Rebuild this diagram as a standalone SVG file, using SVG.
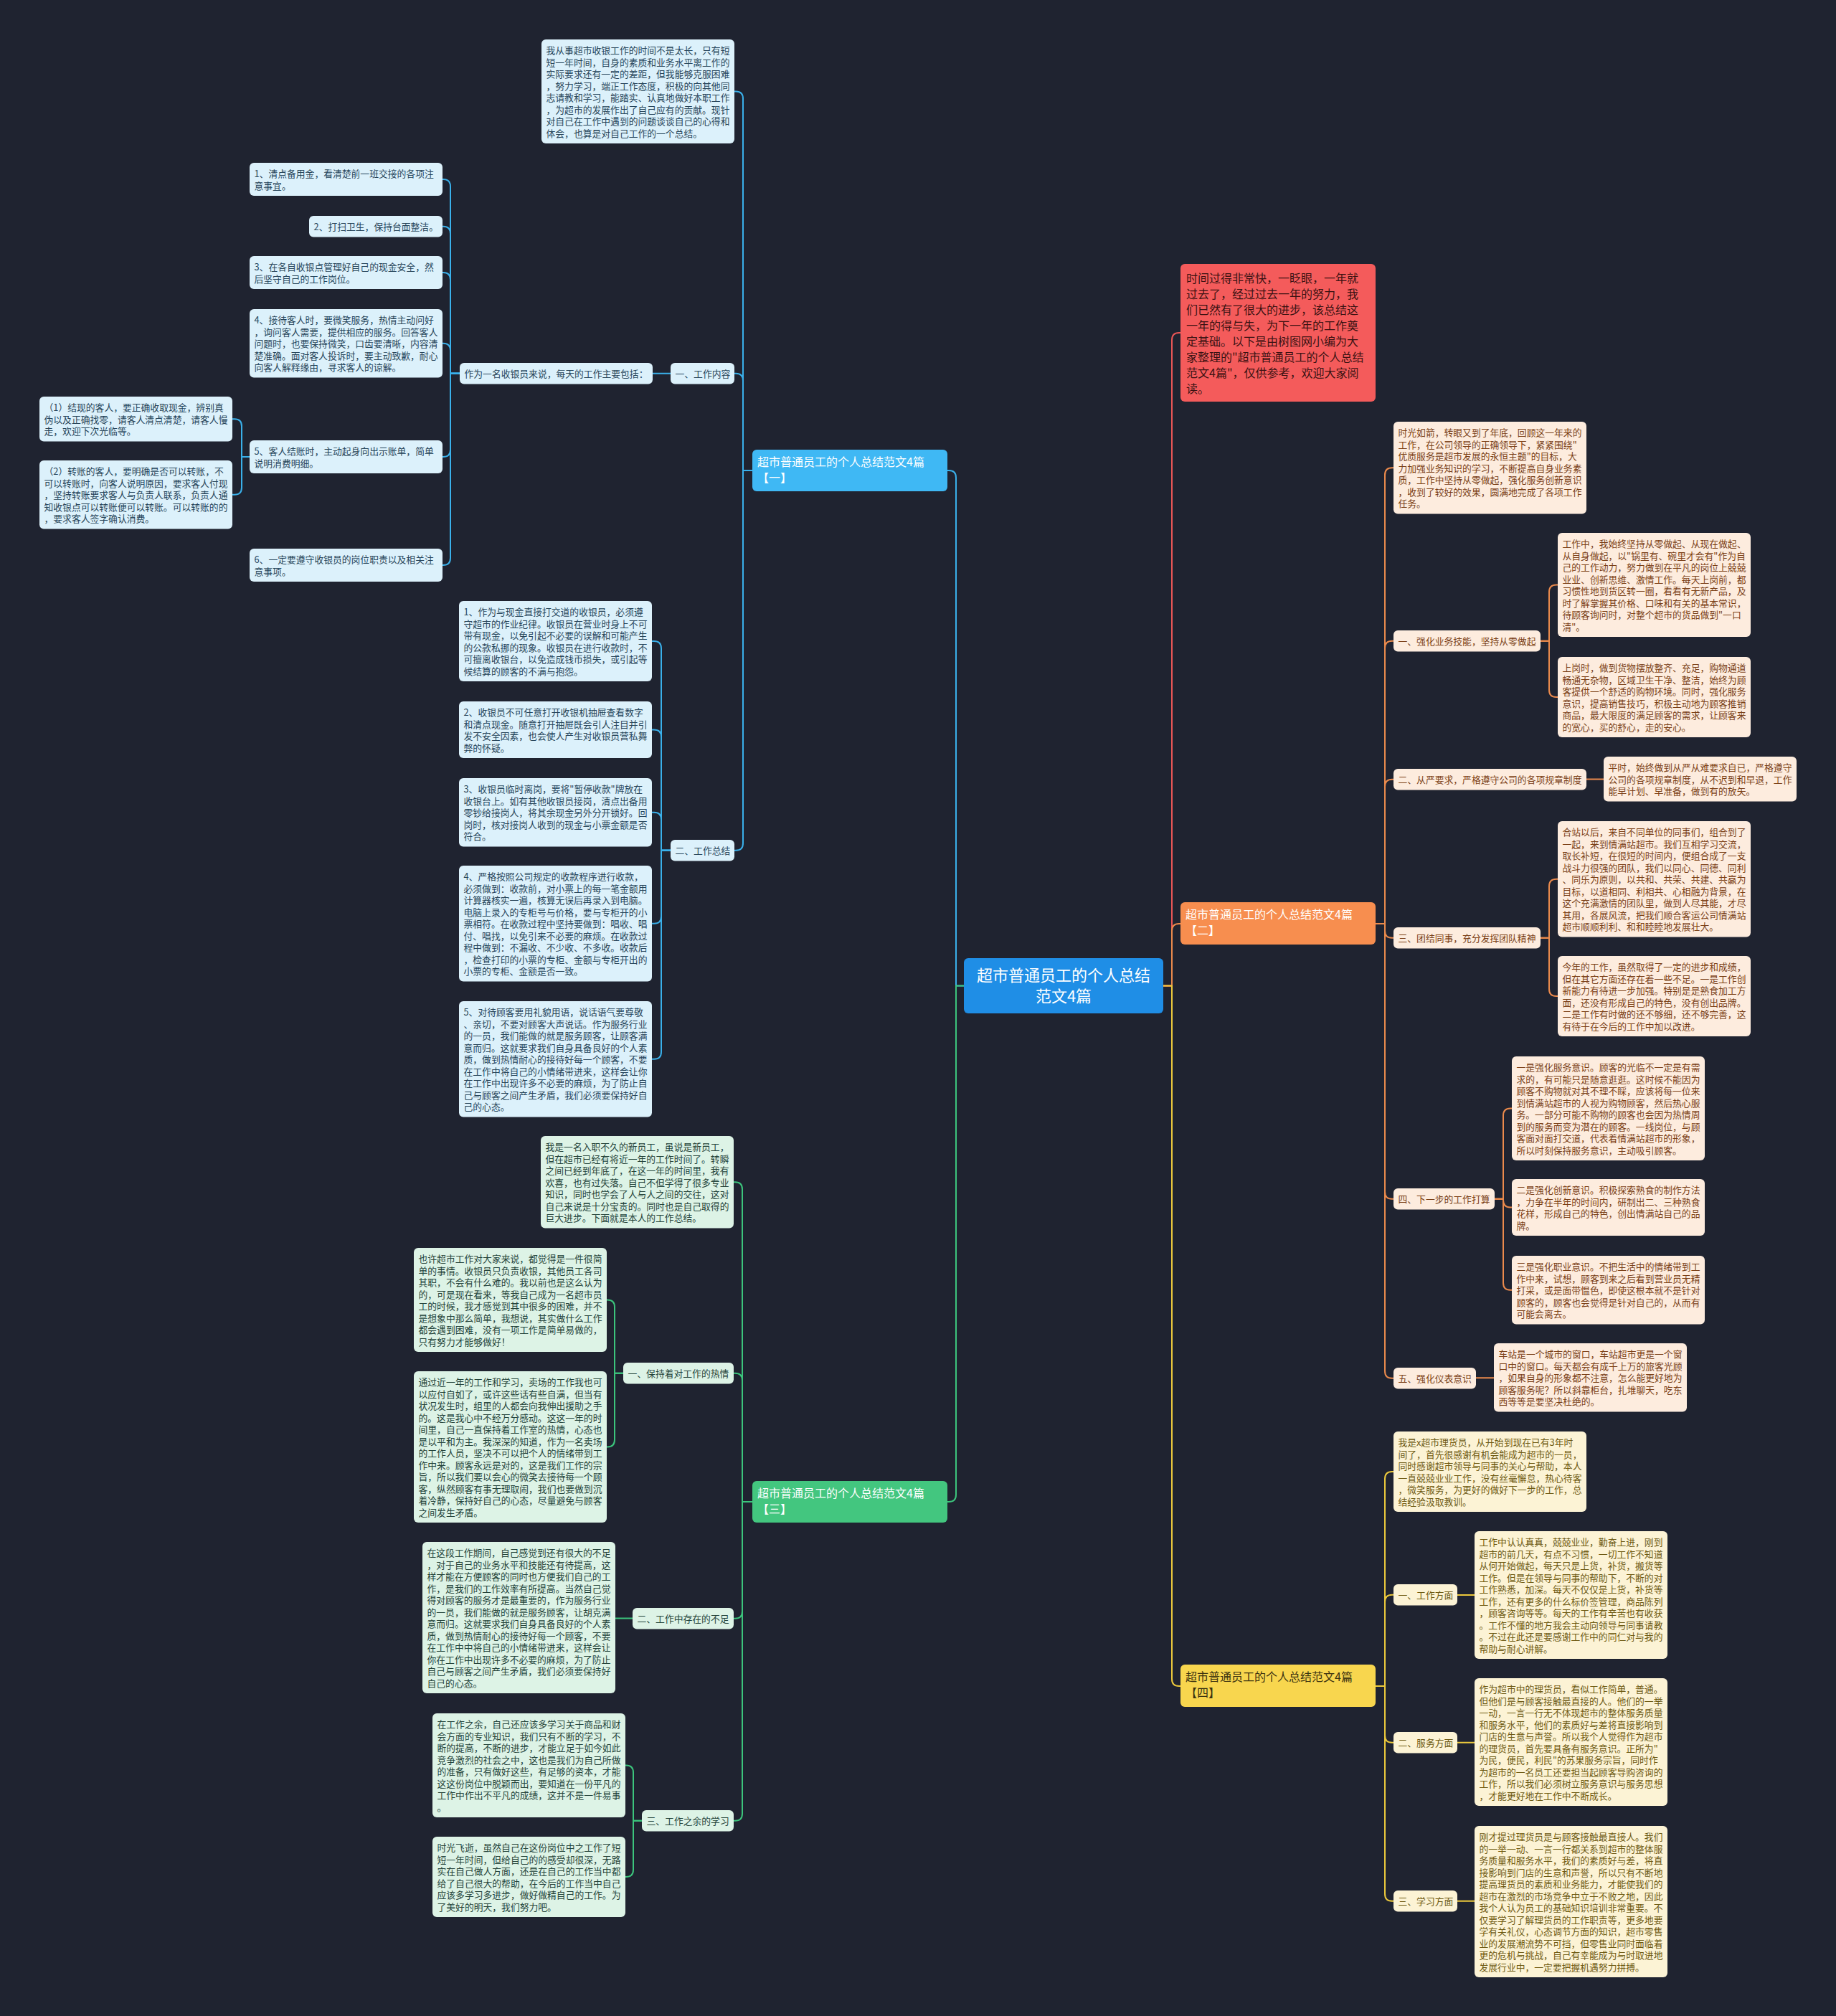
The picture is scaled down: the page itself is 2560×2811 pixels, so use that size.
<svg xmlns="http://www.w3.org/2000/svg" width="2560" height="2811" viewBox="0 0 2560 2811">
<style>
text{font-family:"Noto Sans CJK SC","Noto Sans",sans-serif;}
.t{font-size:12.8px}
.lb rect{fill:#dcf1fb} .lb text{fill:#27455a}
.lg rect{fill:#ddf3e6} .lg text{fill:#24433a}
.lo rect{fill:#fdecde} .lo text{fill:#7a3f16}
.ly rect{fill:#fcf3d5} .ly text{fill:#6e5a12}
.c path{fill:none;stroke-width:2}
.cb path{stroke:#3ab0ea} .cg path{stroke:#3cc47c} .co path{stroke:#eb8a4c} .cy path{stroke:#ecc93c} .cr path{stroke:#ea5656}
.sec text{font-size:16px}
</style>
<rect width="2560" height="2811" fill="#1f2330"/>

<g id="connectors" class="c">
 <g class="cb">
  <path d="M1344 1374.5H1333V666Q1333 656 1323 656H1321"/>
  <path d="M1049 656H1036V137.5Q1036 127.5 1026 127.5H1024"/>
  <path d="M1049 656H1036V530.75Q1036 520.75 1026 520.75H1024"/>
  <path d="M1049 656H1036V1175.75Q1036 1185.75 1026 1185.75H1024"/>
  <path d="M935 520.75H910"/>
  <path d="M641 520.75H628V260Q628 250 618 250H617"/>
  <path d="M641 520.75H628V325.75Q628 315.75 618 315.75H617"/>
  <path d="M641 520.75H628V390Q628 380 618 380H617"/>
  <path d="M641 520.75H628V488.75Q628 478.75 618 478.75H617"/>
  <path d="M641 520.75H628V627Q628 637 618 637H617"/>
  <path d="M641 520.75H628V778Q628 788 618 788H617"/>
  <path d="M348 637H337V594.25Q337 584.25 327 584.25H324"/>
  <path d="M348 637H337V679.75Q337 689.75 327 689.75H324"/>
  <path d="M935 1185.75H922V904Q922 894 912 894H909"/>
  <path d="M935 1185.75H922V1027.5Q922 1017.5 912 1017.5H909"/>
  <path d="M935 1185.75H922V1142.75Q922 1132.75 912 1132.75H909"/>
  <path d="M935 1185.75H922V1277.75Q922 1287.75 912 1287.75H909"/>
  <path d="M935 1185.75H922V1466.75Q922 1476.75 912 1476.75H909"/>
 </g>
 <g class="cg">
  <path d="M1344 1374.5H1333V2084Q1333 2094 1323 2094H1321"/>
  <path d="M1049 2094H1035V1658.25Q1035 1648.25 1025 1648.25H1023"/>
  <path d="M1049 2094H1035V1924.75Q1035 1914.75 1025 1914.75H1023"/>
  <path d="M1049 2094H1035V2246.75Q1035 2256.75 1025 2256.75H1023"/>
  <path d="M1049 2094H1035V2528.75Q1035 2538.75 1025 2538.75H1023"/>
  <path d="M869 1914.75H857V1822.5Q857 1812.5 847 1812.5H846"/>
  <path d="M869 1914.75H857V2007.5Q857 2017.5 847 2017.5H846"/>
  <path d="M882 2256.5H858"/>
  <path d="M895 2538.75H883V2471.5Q883 2461.5 873 2461.5H872"/>
  <path d="M895 2538.75H883V2607Q883 2617 873 2617H872"/>
 </g>
 <g class="cr">
  <path d="M1622 1374.5H1634V474Q1634 464 1644 464H1646"/>
 </g>
 <g class="co">
  <path d="M1622 1374.5H1634V1298Q1634 1288 1644 1288H1646"/>
  <path d="M1918 1288H1931V662.25Q1931 652.25 1941 652.25H1943"/>
  <path d="M1918 1288H1931V903.75Q1931 893.75 1941 893.75H1943"/>
  <path d="M1918 1288H1931V1096.75Q1931 1086.75 1941 1086.75H1943"/>
  <path d="M1918 1288H1931V1297.75Q1931 1307.75 1941 1307.75H1943"/>
  <path d="M1918 1288H1931V1661.75Q1931 1671.75 1941 1671.75H1943"/>
  <path d="M1918 1288H1931V1911.75Q1931 1921.75 1941 1921.75H1943"/>
  <path d="M2148 893.75H2160V825.5Q2160 815.5 2170 815.5H2172"/>
  <path d="M2148 893.75H2160V962Q2160 972 2170 972H2172"/>
  <path d="M2212 1086.5H2236"/>
  <path d="M2148 1307.75H2160V1235.75Q2160 1225.75 2170 1225.75H2172"/>
  <path d="M2148 1307.75H2160V1379Q2160 1389 2170 1389H2172"/>
  <path d="M2084 1671.75H2096V1555.5Q2096 1545.5 2106 1545.5H2108"/>
  <path d="M2084 1671.75H2096V1673.5Q2096 1683.5 2106 1683.5H2108"/>
  <path d="M2084 1671.75H2096V1788.75Q2096 1798.75 2106 1798.75H2108"/>
  <path d="M2058 1921.25H2083"/>
 </g>
 <g class="cy">
  <path d="M1622 1374.5H1634V2341Q1634 2351 1644 2351H1646"/>
  <path d="M1918 2351H1931V2062Q1931 2052 1941 2052H1943"/>
  <path d="M1918 2351H1931V2233.75Q1931 2223.75 1941 2223.75H1943"/>
  <path d="M1918 2351H1931V2419.75Q1931 2429.75 1941 2429.75H1943"/>
  <path d="M1918 2351H1931V2640.75Q1931 2650.75 1941 2650.75H1943"/>
  <path d="M2032 2224H2056"/>
  <path d="M2032 2429.75H2056"/>
  <path d="M2032 2650.75H2056"/>
 </g>
</g>

<g id="root">
 <rect x="1344" y="1336" width="278" height="77" rx="6" fill="#1f8ee6"/>
 <text x="1483" y="1368" font-size="22" fill="#ffffff" text-anchor="middle"><tspan x="1483">超市普通员工的个人总结</tspan><tspan x="1483" dy="29">范文4篇</tspan></text>
</g>

<g id="intro" >
 <rect x="1646" y="368" width="272" height="192" rx="6" fill="#f45b5b"/>
 <text x="1654" y="394" font-size="16" fill="#3a1212"><tspan x="1654">时间过得非常快，一眨眼，一年就</tspan><tspan x="1654" dy="22">过去了，经过过去一年的努力，我</tspan><tspan x="1654" dy="22">们已然有了很大的进步，该总结这</tspan><tspan x="1654" dy="22">一年的得与失，为下一年的工作奠</tspan><tspan x="1654" dy="22">定基础。以下是由树图网小编为大</tspan><tspan x="1654" dy="22">家整理的"超市普通员工的个人总结</tspan><tspan x="1654" dy="22">范文4篇"，仅供参考，欢迎大家阅</tspan><tspan x="1654" dy="22">读。</tspan></text>
</g>

<g id="sec1" class="sec">
 <rect x="1049" y="627" width="272" height="58" rx="6" fill="#3fb8f4"/>
 <text x="1056" y="650" fill="#ffffff"><tspan x="1056">超市普通员工的个人总结范文4篇</tspan><tspan x="1056" dy="22">【一】</tspan></text>
</g>
<g id="sec2" class="sec">
 <rect x="1646" y="1258" width="272" height="59" rx="6" fill="#f78e4f"/>
 <text x="1653" y="1281" fill="#ffffff"><tspan x="1653">超市普通员工的个人总结范文4篇</tspan><tspan x="1653" dy="22">【二】</tspan></text>
</g>
<g id="sec3" class="sec">
 <rect x="1049" y="2065" width="272" height="58" rx="6" fill="#43c67f"/>
 <text x="1056" y="2088" fill="#ffffff"><tspan x="1056">超市普通员工的个人总结范文4篇</tspan><tspan x="1056" dy="22">【三】</tspan></text>
</g>
<g id="sec4" class="sec">
 <rect x="1646" y="2321" width="272" height="59" rx="6" fill="#f8d64e"/>
 <text x="1653" y="2344" fill="#3b3210"><tspan x="1653">超市普通员工的个人总结范文4篇</tspan><tspan x="1653" dy="22">【四】</tspan></text>
</g>

<!-- Section 1 -->
<g id="s1-intro" class="lb t">
 <rect x="755" y="55" width="269" height="145" rx="6"/>
 <text x="761.5" y="75"><tspan x="761.5">我从事超市收银工作的时间不是太长，只有短</tspan><tspan x="761.5" dy="16.5">短一年时间，自身的素质和业务水平离工作的</tspan><tspan x="761.5" dy="16.5">实际要求还有一定的差距，但我能够克服困难</tspan><tspan x="761.5" dy="16.5">，努力学习，端正工作态度，积极的向其他同</tspan><tspan x="761.5" dy="16.5">志请教和学习，能踏实、认真地做好本职工作</tspan><tspan x="761.5" dy="16.5">，为超市的发展作出了自己应有的贡献。现针</tspan><tspan x="761.5" dy="16.5">对自己在工作中遇到的问题谈谈自己的心得和</tspan><tspan x="761.5" dy="16.5">体会，也算是对自己工作的一个总结。</tspan></text>
</g>
<g id="s1-a" class="lb t">
 <rect x="935" y="506" width="89" height="29.5" rx="6"/>
 <text x="941.5" y="526">一、工作内容</text>
</g>
<g id="s1-a0" class="lb t">
 <rect x="641" y="506" width="269" height="29.5" rx="6"/>
 <text x="647.5" y="526">作为一名收银员来说，每天的工作主要包括：</text>
</g>
<g id="s1-a1" class="lb t">
 <rect x="348" y="227" width="269" height="46" rx="6"/>
 <text x="354.5" y="247"><tspan x="354.5">1、清点备用金，看清楚前一班交接的各项注</tspan><tspan x="354.5" dy="16.5">意事宜。</tspan></text>
</g>
<g id="s1-a2" class="lb t">
 <rect x="431" y="301" width="186" height="29.5" rx="6"/>
 <text x="437.5" y="321">2、打扫卫生，保持台面整洁。</text>
</g>
<g id="s1-a3" class="lb t">
 <rect x="348" y="357" width="269" height="46" rx="6"/>
 <text x="354.5" y="377"><tspan x="354.5">3、在各自收银点管理好自己的现金安全，然</tspan><tspan x="354.5" dy="16.5">后坚守自己的工作岗位。</tspan></text>
</g>
<g id="s1-a4" class="lb t">
 <rect x="348" y="431" width="269" height="95.5" rx="6"/>
 <text x="354.5" y="451"><tspan x="354.5">4、接待客人时，要微笑服务，热情主动问好</tspan><tspan x="354.5" dy="16.5">，询问客人需要，提供相应的服务。回答客人</tspan><tspan x="354.5" dy="16.5">问题时，也要保持微笑，口齿要清晰，内容清</tspan><tspan x="354.5" dy="16.5">楚准确。面对客人投诉时，要主动致歉，耐心</tspan><tspan x="354.5" dy="16.5">向客人解释缘由，寻求客人的谅解。</tspan></text>
</g>
<g id="s1-a5" class="lb t">
 <rect x="348" y="614" width="269" height="46" rx="6"/>
 <text x="354.5" y="634"><tspan x="354.5">5、客人结账时，主动起身向出示账单，简单</tspan><tspan x="354.5" dy="16.5">说明消费明细。</tspan></text>
</g>
<g id="s1-a5-1" class="lb t">
 <rect x="55" y="553" width="269" height="62.5" rx="6"/>
 <text x="61.5" y="573"><tspan x="61.5">（1）结现的客人，要正确收取现金，辨别真</tspan><tspan x="61.5" dy="16.5">伪以及正确找零，请客人清点清楚，请客人慢</tspan><tspan x="61.5" dy="16.5">走，欢迎下次光临等。</tspan></text>
</g>
<g id="s1-a5-2" class="lb t">
 <rect x="55" y="642" width="269" height="95.5" rx="6"/>
 <text x="61.5" y="662"><tspan x="61.5">（2）转账的客人，要明确是否可以转账，不</tspan><tspan x="61.5" dy="16.5">可以转账时，向客人说明原因，要求客人付现</tspan><tspan x="61.5" dy="16.5">，坚持转账要求客人与负责人联系，负责人通</tspan><tspan x="61.5" dy="16.5">知收银点可以转账便可以转账。可以转账的的</tspan><tspan x="61.5" dy="16.5">，要求客人签字确认消费。</tspan></text>
</g>
<g id="s1-a6" class="lb t">
 <rect x="348" y="765" width="269" height="46" rx="6"/>
 <text x="354.5" y="785"><tspan x="354.5">6、一定要遵守收银员的岗位职责以及相关注</tspan><tspan x="354.5" dy="16.5">意事项。</tspan></text>
</g>
<g id="s1-b" class="lb t">
 <rect x="935" y="1171" width="89" height="29.5" rx="6"/>
 <text x="941.5" y="1191">二、工作总结</text>
</g>
<g id="s1-b1" class="lb t">
 <rect x="640" y="838" width="269" height="112" rx="6"/>
 <text x="646.5" y="858"><tspan x="646.5">1、作为与现金直接打交道的收银员，必须遵</tspan><tspan x="646.5" dy="16.5">守超市的作业纪律。收银员在营业时身上不可</tspan><tspan x="646.5" dy="16.5">带有现金，以免引起不必要的误解和可能产生</tspan><tspan x="646.5" dy="16.5">的公款私挪的现象。收银员在进行收款时，不</tspan><tspan x="646.5" dy="16.5">可擅离收银台，以免造成钱币损失，或引起等</tspan><tspan x="646.5" dy="16.5">候结算的顾客的不满与抱怨。</tspan></text>
</g>
<g id="s1-b2" class="lb t">
 <rect x="640" y="978" width="269" height="79" rx="6"/>
 <text x="646.5" y="998"><tspan x="646.5">2、收银员不可任意打开收银机抽屉查看数字</tspan><tspan x="646.5" dy="16.5">和清点现金。随意打开抽屉既会引人注目并引</tspan><tspan x="646.5" dy="16.5">发不安全因素，也会使人产生对收银员营私舞</tspan><tspan x="646.5" dy="16.5">弊的怀疑。</tspan></text>
</g>
<g id="s1-b3" class="lb t">
 <rect x="640" y="1085" width="269" height="95.5" rx="6"/>
 <text x="646.5" y="1105"><tspan x="646.5">3、收银员临时离岗，要将"暂停收款"牌放在</tspan><tspan x="646.5" dy="16.5">收银台上。如有其他收银员接岗，清点出备用</tspan><tspan x="646.5" dy="16.5">零钞给接岗人，将其余现金另外分开锁好。回</tspan><tspan x="646.5" dy="16.5">岗时，核对接岗人收到的现金与小票金额是否</tspan><tspan x="646.5" dy="16.5">符合。</tspan></text>
</g>
<g id="s1-b4" class="lb t">
 <rect x="640" y="1207" width="269" height="161.5" rx="6"/>
 <text x="646.5" y="1227"><tspan x="646.5">4、严格按照公司规定的收款程序进行收款，</tspan><tspan x="646.5" dy="16.5">必须做到：收款前，对小票上的每一笔金额用</tspan><tspan x="646.5" dy="16.5">计算器核实一遍，核算无误后再录入到电脑。</tspan><tspan x="646.5" dy="16.5">电脑上录入的专柜号与价格，要与专柜开的小</tspan><tspan x="646.5" dy="16.5">票相符。在收款过程中坚持要做到：唱收、唱</tspan><tspan x="646.5" dy="16.5">付、唱找，以免引来不必要的麻烦。在收款过</tspan><tspan x="646.5" dy="16.5">程中做到：不漏收、不少收、不多收。收款后</tspan><tspan x="646.5" dy="16.5">，检查打印的小票的专柜、金额与专柜开出的</tspan><tspan x="646.5" dy="16.5">小票的专柜、金额是否一致。</tspan></text>
</g>
<g id="s1-b5" class="lb t">
 <rect x="640" y="1396" width="269" height="161.5" rx="6"/>
 <text x="646.5" y="1416"><tspan x="646.5">5、对待顾客要用礼貌用语，说话语气要尊敬</tspan><tspan x="646.5" dy="16.5">、亲切，不要对顾客大声说话。作为服务行业</tspan><tspan x="646.5" dy="16.5">的一员，我们能做的就是服务顾客，让顾客满</tspan><tspan x="646.5" dy="16.5">意而归。这就要求我们自身具备良好的个人素</tspan><tspan x="646.5" dy="16.5">质，做到热情耐心的接待好每一个顾客，不要</tspan><tspan x="646.5" dy="16.5">在工作中将自己的小情绪带进来，这样会让你</tspan><tspan x="646.5" dy="16.5">在工作中出现许多不必要的麻烦，为了防止自</tspan><tspan x="646.5" dy="16.5">己与顾客之间产生矛盾，我们必须要保持好自</tspan><tspan x="646.5" dy="16.5">己的心态。</tspan></text>
</g>

<!-- Section 3 -->
<g id="s3-intro" class="lg t">
 <rect x="754" y="1584" width="269" height="128.5" rx="6"/>
 <text x="760.5" y="1604"><tspan x="760.5">我是一名入职不久的新员工，虽说是新员工，</tspan><tspan x="760.5" dy="16.5">但在超市已经有将近一年的工作时间了。转瞬</tspan><tspan x="760.5" dy="16.5">之间已经到年底了，在这一年的时间里，我有</tspan><tspan x="760.5" dy="16.5">欢喜，也有过失落。自己不但学得了很多专业</tspan><tspan x="760.5" dy="16.5">知识，同时也学会了人与人之间的交往，这对</tspan><tspan x="760.5" dy="16.5">自己来说是十分宝贵的。同时也是自己取得的</tspan><tspan x="760.5" dy="16.5">巨大进步。下面就是本人的工作总结。</tspan></text>
</g>
<g id="s3-a" class="lg t">
 <rect x="869" y="1900" width="154" height="29.5" rx="6"/>
 <text x="875.5" y="1920">一、保持着对工作的热情</text>
</g>
<g id="s3-a1" class="lg t">
 <rect x="577" y="1740" width="269" height="145" rx="6"/>
 <text x="583.5" y="1760"><tspan x="583.5">也许超市工作对大家来说，都觉得是一件很简</tspan><tspan x="583.5" dy="16.5">单的事情。收银员只负责收银，其他员工各司</tspan><tspan x="583.5" dy="16.5">其职，不会有什么难的。我以前也是这么认为</tspan><tspan x="583.5" dy="16.5">的，可是现在看来，等我自己成为一名超市员</tspan><tspan x="583.5" dy="16.5">工的时候，我才感觉到其中很多的困难，并不</tspan><tspan x="583.5" dy="16.5">是想象中那么简单，我想说，其实做什么工作</tspan><tspan x="583.5" dy="16.5">都会遇到困难，没有一项工作是简单易做的，</tspan><tspan x="583.5" dy="16.5">只有努力才能够做好！</tspan></text>
</g>
<g id="s3-a2" class="lg t">
 <rect x="577" y="1912" width="269" height="211" rx="6"/>
 <text x="583.5" y="1932"><tspan x="583.5">通过近一年的工作和学习，卖场的工作我也可</tspan><tspan x="583.5" dy="16.5">以应付自如了，或许这些话有些自满，但当有</tspan><tspan x="583.5" dy="16.5">状况发生时，组里的人都会向我伸出援助之手</tspan><tspan x="583.5" dy="16.5">的。这是我心中不经万分感动。这这一年的时</tspan><tspan x="583.5" dy="16.5">间里，自己一直保持着工作室的热情，心态也</tspan><tspan x="583.5" dy="16.5">是以平和为主。我深深的知道，作为一名卖场</tspan><tspan x="583.5" dy="16.5">的工作人员，坚决不可以把个人的情绪带到工</tspan><tspan x="583.5" dy="16.5">作中来。顾客永远是对的，这是我们工作的宗</tspan><tspan x="583.5" dy="16.5">旨，所以我们要以会心的微笑去接待每一个顾</tspan><tspan x="583.5" dy="16.5">客，纵然顾客有事无理取闹，我们也要做到沉</tspan><tspan x="583.5" dy="16.5">着冷静，保持好自己的心态，尽量避免与顾客</tspan><tspan x="583.5" dy="16.5">之间发生矛盾。</tspan></text>
</g>
<g id="s3-b" class="lg t">
 <rect x="882" y="2242" width="141" height="29.5" rx="6"/>
 <text x="888.5" y="2262">二、工作中存在的不足</text>
</g>
<g id="s3-b1" class="lg t">
 <rect x="589" y="2150" width="269" height="211" rx="6"/>
 <text x="595.5" y="2170"><tspan x="595.5">在这段工作期间，自己感觉到还有很大的不足</tspan><tspan x="595.5" dy="16.5">，对于自己的业务水平和技能还有待提高，这</tspan><tspan x="595.5" dy="16.5">样才能在方便顾客的同时也方便我们自己的工</tspan><tspan x="595.5" dy="16.5">作，是我们的工作效率有所提高。当然自己觉</tspan><tspan x="595.5" dy="16.5">得对顾客的服务才是最重要的，作为服务行业</tspan><tspan x="595.5" dy="16.5">的一员，我们能做的就是服务顾客，让胡克满</tspan><tspan x="595.5" dy="16.5">意而归。这就要求我们自身具备良好的个人素</tspan><tspan x="595.5" dy="16.5">质，做到热情耐心的接待好每一个顾客，不要</tspan><tspan x="595.5" dy="16.5">在工作中中将自己的小情绪带进来，这样会让</tspan><tspan x="595.5" dy="16.5">你在工作中出现许多不必要的麻烦，为了防止</tspan><tspan x="595.5" dy="16.5">自己与顾客之间产生矛盾，我们必须要保持好</tspan><tspan x="595.5" dy="16.5">自己的心态。</tspan></text>
</g>
<g id="s3-c" class="lg t">
 <rect x="895" y="2524" width="128" height="29.5" rx="6"/>
 <text x="901.5" y="2544">三、工作之余的学习</text>
</g>
<g id="s3-c1" class="lg t">
 <rect x="603" y="2389" width="269" height="145" rx="6"/>
 <text x="609.5" y="2409"><tspan x="609.5">在工作之余，自己还应该多学习关于商品和财</tspan><tspan x="609.5" dy="16.5">会方面的专业知识，我们只有不断的学习，不</tspan><tspan x="609.5" dy="16.5">断的提高，不断的进步，才能立足于如今如此</tspan><tspan x="609.5" dy="16.5">竞争激烈的社会之中，这也是我们为自己所做</tspan><tspan x="609.5" dy="16.5">的准备，只有做好这些，有足够的资本，才能</tspan><tspan x="609.5" dy="16.5">这这份岗位中脱颖而出，要知道在一份平凡的</tspan><tspan x="609.5" dy="16.5">工作中作出不平凡的成绩，这并不是一件易事</tspan><tspan x="609.5" dy="16.5">。</tspan></text>
</g>
<g id="s3-c2" class="lg t">
 <rect x="603" y="2561" width="269" height="112" rx="6"/>
 <text x="609.5" y="2581"><tspan x="609.5">时光飞逝，虽然自己在这份岗位中之工作了短</tspan><tspan x="609.5" dy="16.5">短一年时间，但给自己的的感受却很深，无路</tspan><tspan x="609.5" dy="16.5">实在自己做人方面，还是在自己的工作当中都</tspan><tspan x="609.5" dy="16.5">给了自己很大的帮助，在今后的工作当中自己</tspan><tspan x="609.5" dy="16.5">应该多学习多进步，做好做精自己的工作。为</tspan><tspan x="609.5" dy="16.5">了美好的明天，我们努力吧。</tspan></text>
</g>

<!-- Section 2 -->
<g id="s2-intro" class="lo t">
 <rect x="1943" y="588" width="269" height="128.5" rx="6"/>
 <text x="1949.5" y="608"><tspan x="1949.5">时光如箭，转眼又到了年底，回顾这一年来的</tspan><tspan x="1949.5" dy="16.5">工作，在公司领导的正确领导下，紧紧围绕"</tspan><tspan x="1949.5" dy="16.5">优质服务是超市发展的永恒主题"的目标，大</tspan><tspan x="1949.5" dy="16.5">力加强业务知识的学习，不断提高自身业务素</tspan><tspan x="1949.5" dy="16.5">质，工作中坚持从零做起，强化服务创新意识</tspan><tspan x="1949.5" dy="16.5">，收到了较好的效果，圆满地完成了各项工作</tspan><tspan x="1949.5" dy="16.5">任务。</tspan></text>
</g>
<g id="s2-a" class="lo t">
 <rect x="1943" y="879" width="205" height="29.5" rx="6"/>
 <text x="1949.5" y="899">一、强化业务技能，坚持从零做起</text>
</g>
<g id="s2-a1" class="lo t">
 <rect x="2172" y="743" width="269" height="145" rx="6"/>
 <text x="2178.5" y="763"><tspan x="2178.5">工作中，我始终坚持从零做起、从现在做起、</tspan><tspan x="2178.5" dy="16.5">从自身做起，以"锅里有、碗里才会有"作为自</tspan><tspan x="2178.5" dy="16.5">己的工作动力，努力做到在平凡的岗位上兢兢</tspan><tspan x="2178.5" dy="16.5">业业、创新思维、激情工作。每天上岗前，都</tspan><tspan x="2178.5" dy="16.5">习惯性地到货区转一圈，看看有无新产品，及</tspan><tspan x="2178.5" dy="16.5">时了解掌握其价格、口味和有关的基本常识，</tspan><tspan x="2178.5" dy="16.5">待顾客询问时，对整个超市的货品做到"一口</tspan><tspan x="2178.5" dy="16.5">清"。</tspan></text>
</g>
<g id="s2-a2" class="lo t">
 <rect x="2172" y="916" width="269" height="112" rx="6"/>
 <text x="2178.5" y="936"><tspan x="2178.5">上岗时，做到货物摆放整齐、充足，购物通道</tspan><tspan x="2178.5" dy="16.5">畅通无杂物，区域卫生干净、整洁，始终为顾</tspan><tspan x="2178.5" dy="16.5">客提供一个舒适的购物环境。同时，强化服务</tspan><tspan x="2178.5" dy="16.5">意识，提高销售技巧，积极主动地为顾客推销</tspan><tspan x="2178.5" dy="16.5">商品，最大限度的满足顾客的需求，让顾客来</tspan><tspan x="2178.5" dy="16.5">的宽心，买的舒心，走的安心。</tspan></text>
</g>
<g id="s2-b" class="lo t">
 <rect x="1943" y="1072" width="269" height="29.5" rx="6"/>
 <text x="1949.5" y="1092">二、从严要求，严格遵守公司的各项规章制度</text>
</g>
<g id="s2-b1" class="lo t">
 <rect x="2236" y="1055" width="269" height="62.5" rx="6"/>
 <text x="2242.5" y="1075"><tspan x="2242.5">平时，始终做到从严从难要求自已，严格遵守</tspan><tspan x="2242.5" dy="16.5">公司的各项规章制度，从不迟到和早退，工作</tspan><tspan x="2242.5" dy="16.5">能早计划、早准备，做到有的放矢。</tspan></text>
</g>
<g id="s2-c" class="lo t">
 <rect x="1943" y="1293" width="205" height="29.5" rx="6"/>
 <text x="1949.5" y="1313">三、团结同事，充分发挥团队精神</text>
</g>
<g id="s2-c1" class="lo t">
 <rect x="2172" y="1145" width="269" height="161.5" rx="6"/>
 <text x="2178.5" y="1165"><tspan x="2178.5">合站以后，来自不同单位的同事们，组合到了</tspan><tspan x="2178.5" dy="16.5">一起，来到情满站超市。我们互相学习交流，</tspan><tspan x="2178.5" dy="16.5">取长补短，在很短的时间内，便组合成了一支</tspan><tspan x="2178.5" dy="16.5">战斗力很强的团队，我们以同心、同德、同利</tspan><tspan x="2178.5" dy="16.5">、同乐为原则，以共和、共荣、共建、共赢为</tspan><tspan x="2178.5" dy="16.5">目标，以道相同、利相共、心相融为背景，在</tspan><tspan x="2178.5" dy="16.5">这个充满激情的团队里，做到人尽其能，才尽</tspan><tspan x="2178.5" dy="16.5">其用，各展风流，把我们顺合客运公司情满站</tspan><tspan x="2178.5" dy="16.5">超市顺顺利利、和和睦睦地发展壮大。</tspan></text>
</g>
<g id="s2-c2" class="lo t">
 <rect x="2172" y="1333" width="269" height="112" rx="6"/>
 <text x="2178.5" y="1353"><tspan x="2178.5">今年的工作，虽然取得了一定的进步和成绩，</tspan><tspan x="2178.5" dy="16.5">但在其它方面还存在着一些不足。一是工作创</tspan><tspan x="2178.5" dy="16.5">新能力有待进一步加强。特别是是熟食加工方</tspan><tspan x="2178.5" dy="16.5">面，还没有形成自己的特色，没有创出品牌。</tspan><tspan x="2178.5" dy="16.5">二是工作有时做的还不够细，还不够完善，这</tspan><tspan x="2178.5" dy="16.5">有待于在今后的工作中加以改进。</tspan></text>
</g>
<g id="s2-d" class="lo t">
 <rect x="1943" y="1657" width="141" height="29.5" rx="6"/>
 <text x="1949.5" y="1677">四、下一步的工作打算</text>
</g>
<g id="s2-d1" class="lo t">
 <rect x="2108" y="1473" width="269" height="145" rx="6"/>
 <text x="2114.5" y="1493"><tspan x="2114.5">一是强化服务意识。顾客的光临不一定是有需</tspan><tspan x="2114.5" dy="16.5">求的，有可能只是随意逛逛。这时候不能因为</tspan><tspan x="2114.5" dy="16.5">顾客不购物就对其不理不睬，应该将每一位来</tspan><tspan x="2114.5" dy="16.5">到情满站超市的人视为购物顾客，然后热心服</tspan><tspan x="2114.5" dy="16.5">务。一部分可能不购物的顾客也会因为热情周</tspan><tspan x="2114.5" dy="16.5">到的服务而变为潜在的顾客。一线岗位，与顾</tspan><tspan x="2114.5" dy="16.5">客面对面打交道，代表着情满站超市的形象，</tspan><tspan x="2114.5" dy="16.5">所以时刻保持服务意识，主动吸引顾客。</tspan></text>
</g>
<g id="s2-d2" class="lo t">
 <rect x="2108" y="1644" width="269" height="79" rx="6"/>
 <text x="2114.5" y="1664"><tspan x="2114.5">二是强化创新意识。积极探索熟食的制作方法</tspan><tspan x="2114.5" dy="16.5">，力争在半年的时间内，研制出二、三种熟食</tspan><tspan x="2114.5" dy="16.5">花样，形成自己的特色，创出情满站自己的品</tspan><tspan x="2114.5" dy="16.5">牌。</tspan></text>
</g>
<g id="s2-d3" class="lo t">
 <rect x="2108" y="1751" width="269" height="95.5" rx="6"/>
 <text x="2114.5" y="1771"><tspan x="2114.5">三是强化职业意识。不把生活中的情绪带到工</tspan><tspan x="2114.5" dy="16.5">作中来，试想，顾客到来之后看到营业员无精</tspan><tspan x="2114.5" dy="16.5">打采，或是面带愠色，即使这根本就不是针对</tspan><tspan x="2114.5" dy="16.5">顾客的，顾客也会觉得是针对自己的，从而有</tspan><tspan x="2114.5" dy="16.5">可能会离去。</tspan></text>
</g>
<g id="s2-e" class="lo t">
 <rect x="1943" y="1907" width="115" height="29.5" rx="6"/>
 <text x="1949.5" y="1927">五、强化仪表意识</text>
</g>
<g id="s2-e1" class="lo t">
 <rect x="2083" y="1873" width="269" height="95.5" rx="6"/>
 <text x="2089.5" y="1893"><tspan x="2089.5">车站是一个城市的窗口，车站超市更是一个窗</tspan><tspan x="2089.5" dy="16.5">口中的窗口。每天都会有成千上万的旅客光顾</tspan><tspan x="2089.5" dy="16.5">，如果自身的形象都不注意，怎么能更好地为</tspan><tspan x="2089.5" dy="16.5">顾客服务呢？所以斜靠柜台，扎堆聊天，吃东</tspan><tspan x="2089.5" dy="16.5">西等等是要坚决杜绝的。</tspan></text>
</g>

<!-- Section 4 -->
<g id="s4-intro" class="ly t">
 <rect x="1943" y="1996" width="269" height="112" rx="6"/>
 <text x="1949.5" y="2016"><tspan x="1949.5">我是x超市理货员，从开始到现在已有3年时</tspan><tspan x="1949.5" dy="16.5">间了，首先很感谢有机会能成为超市的一员，</tspan><tspan x="1949.5" dy="16.5">同时感谢超市领导与同事的关心与帮助，本人</tspan><tspan x="1949.5" dy="16.5">一直兢兢业业工作，没有丝毫懈怠，热心待客</tspan><tspan x="1949.5" dy="16.5">，微笑服务，为更好的做好下一步的工作，总</tspan><tspan x="1949.5" dy="16.5">结经验汲取教训。</tspan></text>
</g>
<g id="s4-a" class="ly t">
 <rect x="1943" y="2209" width="89" height="29.5" rx="6"/>
 <text x="1949.5" y="2229">一、工作方面</text>
</g>
<g id="s4-a1" class="ly t">
 <rect x="2056" y="2135" width="269" height="178" rx="6"/>
 <text x="2062.5" y="2155"><tspan x="2062.5">工作中认认真真，兢兢业业，勤奋上进，刚到</tspan><tspan x="2062.5" dy="16.5">超市的前几天，有点不习惯，一切工作不知道</tspan><tspan x="2062.5" dy="16.5">从何开始做起，每天只是上货，补货，搬货等</tspan><tspan x="2062.5" dy="16.5">工作。但是在领导与同事的帮助下，不断的对</tspan><tspan x="2062.5" dy="16.5">工作熟悉，加深。每天不仅仅是上货，补货等</tspan><tspan x="2062.5" dy="16.5">工作，还有更多的什么标价签管理，商品陈列</tspan><tspan x="2062.5" dy="16.5">，顾客咨询等等。每天的工作有辛苦也有收获</tspan><tspan x="2062.5" dy="16.5">。工作不懂的地方我会主动向领导与同事请教</tspan><tspan x="2062.5" dy="16.5">。不过在此还是要感谢工作中的同仁对与我的</tspan><tspan x="2062.5" dy="16.5">帮助与耐心讲解。</tspan></text>
</g>
<g id="s4-b" class="ly t">
 <rect x="1943" y="2415" width="89" height="29.5" rx="6"/>
 <text x="1949.5" y="2435">二、服务方面</text>
</g>
<g id="s4-b1" class="ly t">
 <rect x="2056" y="2340" width="269" height="178" rx="6"/>
 <text x="2062.5" y="2360"><tspan x="2062.5">作为超市中的理货员，看似工作简单，普通。</tspan><tspan x="2062.5" dy="16.5">但他们是与顾客接触最直接的人。他们的一举</tspan><tspan x="2062.5" dy="16.5">一动，一言一行无不体现超市的整体服务质量</tspan><tspan x="2062.5" dy="16.5">和服务水平，他们的素质好与差将直接影响到</tspan><tspan x="2062.5" dy="16.5">门店的生意与声誉。所以我个人觉得作为超市</tspan><tspan x="2062.5" dy="16.5">的理货员，首先要具备有服务意识。正所为"</tspan><tspan x="2062.5" dy="16.5">为民，便民，利民"的苏果服务宗旨，同时作</tspan><tspan x="2062.5" dy="16.5">为超市的一名员工还要担当起顾客导购咨询的</tspan><tspan x="2062.5" dy="16.5">工作，所以我们必须树立服务意识与服务思想</tspan><tspan x="2062.5" dy="16.5">，才能更好地在工作中不断成长。</tspan></text>
</g>
<g id="s4-c" class="ly t">
 <rect x="1943" y="2636" width="89" height="29.5" rx="6"/>
 <text x="1949.5" y="2656">三、学习方面</text>
</g>
<g id="s4-c1" class="ly t">
 <rect x="2056" y="2546" width="269" height="211" rx="6"/>
 <text x="2062.5" y="2566"><tspan x="2062.5">刚才提过理货员是与顾客接触最直接人。我们</tspan><tspan x="2062.5" dy="16.5">的一举一动、一言一行都关系到超市的整体服</tspan><tspan x="2062.5" dy="16.5">务质量和服务水平，我们的素质好与差，将直</tspan><tspan x="2062.5" dy="16.5">接影响到门店的生意和声誉，所以只有不断地</tspan><tspan x="2062.5" dy="16.5">提高理货员的素质和业务能力，才能使我们的</tspan><tspan x="2062.5" dy="16.5">超市在激烈的市场竞争中立于不败之地，因此</tspan><tspan x="2062.5" dy="16.5">我个人认为员工的基础知识培训非常重要。不</tspan><tspan x="2062.5" dy="16.5">仅要学习了解理货员的工作职责等，更多地要</tspan><tspan x="2062.5" dy="16.5">学有关礼仪，心态调节方面的知识，超市零售</tspan><tspan x="2062.5" dy="16.5">业的发展潮流势不可挡，但零售业同时面临着</tspan><tspan x="2062.5" dy="16.5">更的危机与挑战，自己有幸能成为与时取进地</tspan><tspan x="2062.5" dy="16.5">发展行业中，一定要把握机遇努力拼搏。</tspan></text>
</g>
</svg>
